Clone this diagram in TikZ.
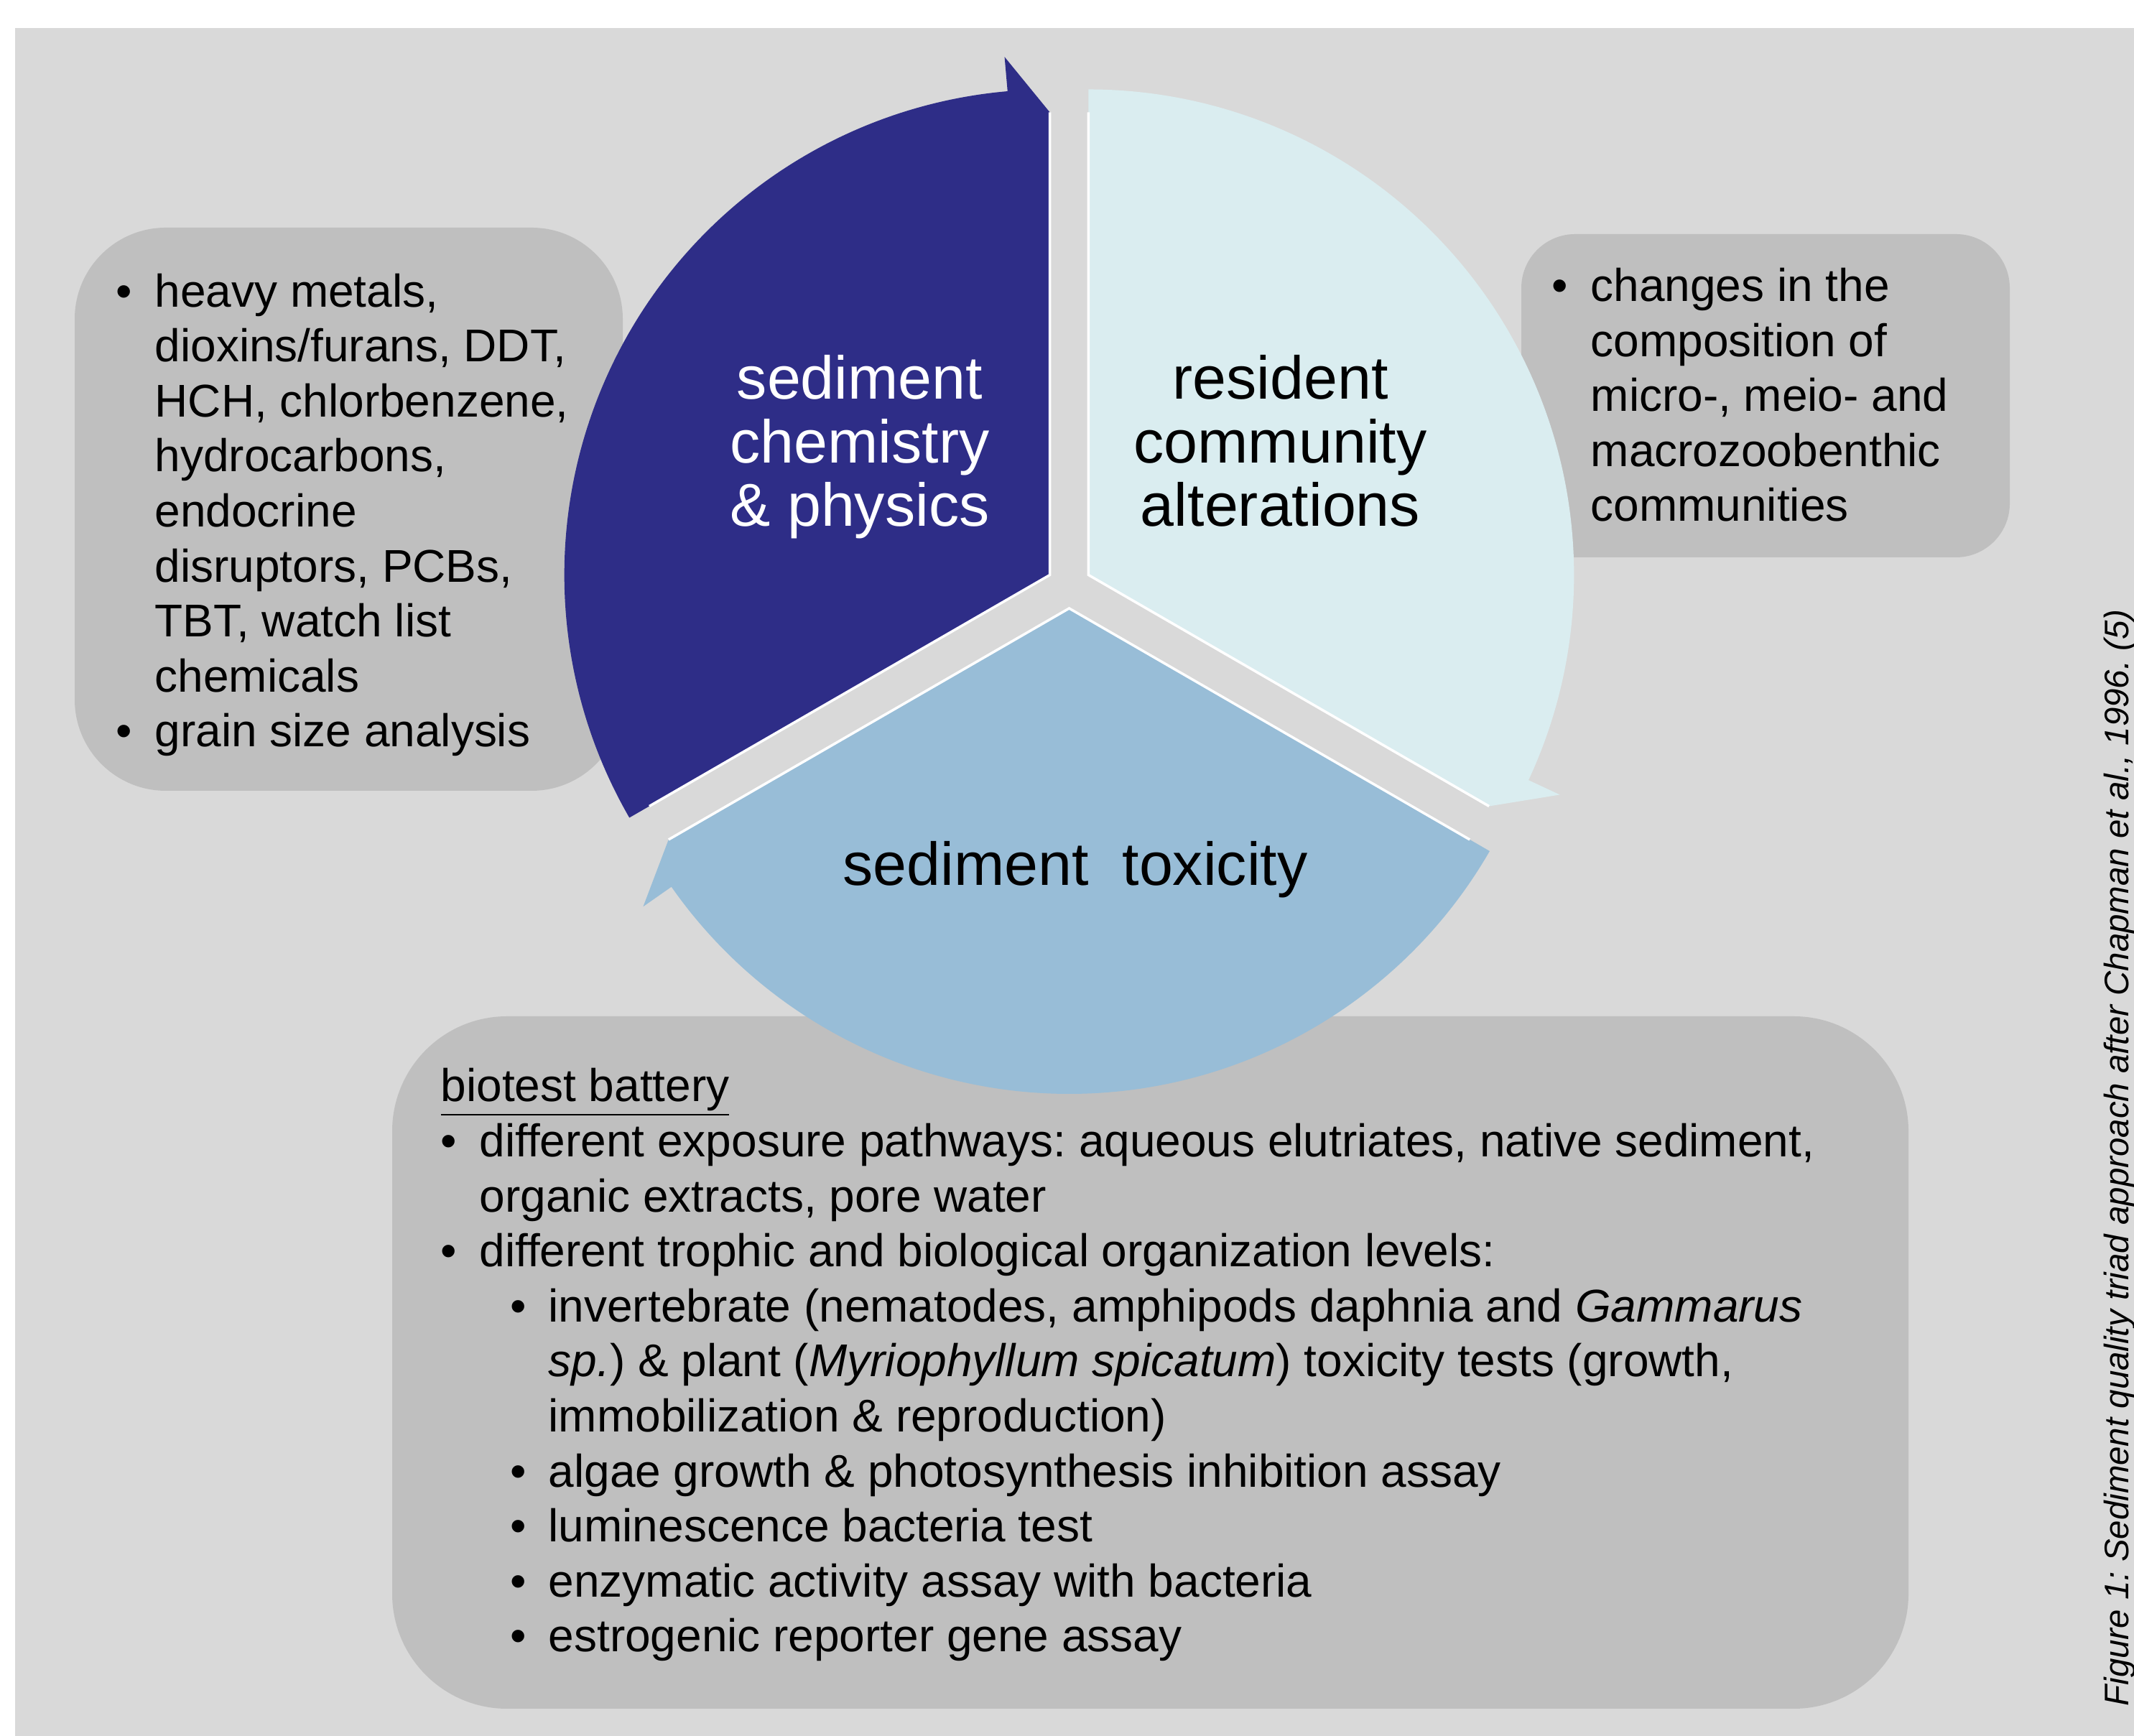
\documentclass[tikz,border=0pt]{standalone}
\usepackage{fontspec}
\setmainfont{Liberation Sans}
\usepackage{tikz}
\usepackage{xcolor}
\usetikzlibrary{positioning}

\definecolor{chemblue}{HTML}{2E2D87}
\definecolor{commcyan}{HTML}{DAEDF0}
\definecolor{toxblue}{HTML}{98BDD7}
\definecolor{panelgrey}{HTML}{D9D9D9}
\definecolor{boxgrey}{HTML}{BFBFBF}

\newcommand{\listdot}{\makebox[0.54cm][l]{\textbullet}}
\newcommand{\listgap}{\hspace*{0.54cm}}
\newcommand{\sublistdot}{\hspace*{0.97cm}\makebox[0.53cm][l]{\textbullet}}
\newcommand{\sublistgap}{\hspace*{1.50cm}}
\frenchspacing

\begin{document}
\begin{tikzpicture}[
        bodytext/.style={font=\fontsize{18.2}{21.8}\selectfont, align=left, inner sep=0pt, anchor=base west},
        headtext/.style={font=\fontsize{24}{25.2}\selectfont, align=center, inner sep=0pt, anchor=base},
        edgeline/.style={white, line width=1pt}
    ]
            \useasboundingbox (0, 0) rectangle (29.71, 24.17);
            \fill[panelgrey] (0.21, 0) rectangle (29.71, 23.78);

            % grey boxes behind the cycle
            \fill[boxgrey, rounded corners=1.27cm] (1.04, 13.16) rectangle (8.67, 21.00);
            \fill[boxgrey, rounded corners=0.75cm] (21.18, 16.41) rectangle (27.98, 20.91);
            \fill[boxgrey, rounded corners=1.6cm] (5.46, 0.38) rectangle (26.57, 10.02);

            % each segment is pushed a little away from the middle
            \coordinate (mid) at (14.885, 16.01);
            \coordinate (chem) at ([shift={(150:0.31)}]mid);
            \coordinate (comm) at ([shift={(30:0.31)}]mid);
            \coordinate (tox) at ([shift={(270:0.31)}]mid);

            \begin{scope}[shift={(chem)}]
                \fill[chemblue] (0, 0) -- (210:6.76) arc[start angle=210, end angle=95, radius=6.76] -- (95:7.24) -- (90:6.44) -- cycle;
                \draw[edgeline] (90:6.44) -- (0, 0) -- (210:6.44);
            \end{scope}
            \begin{scope}[shift={(comm)}]
                \fill[commcyan] (0, 0) -- (90:6.76) arc[start angle=90, end angle=-25, radius=6.76] -- (-25:7.24) -- (-30:6.44) -- cycle;
                \draw[edgeline] (-30:6.44) -- (0, 0) -- (90:6.44);
            \end{scope}
            \begin{scope}[shift={(tox)}]
                \fill[toxblue] (0, 0) -- (330:6.76) arc[start angle=330, end angle=215, radius=6.76] -- (215:7.24) -- (210:6.44) -- cycle;
                \draw[edgeline] (210:6.44) -- (0, 0) -- (330:6.44);
            \end{scope}

            % multi-line nodes sit on the baseline of their last line
            \node[headtext, white] (chemlabel) at (11.97, 16.84) {sediment\\chemistry\\\& physics};
            \node[headtext] (commlabel) at (17.825, 16.84) {resident\\community\\alterations};
            \node[headtext] (toxlabel) at (14.97, 11.84) {sediment~~toxicity};

            \node[bodytext] (chemlist) at (1.61, 13.77) {\listdot heavy metals,\\
                \listgap dioxins/furans, DDT,\\
                \listgap HCH, chlorbenzene,\\
                \listgap hydrocarbons,\\
                \listgap endocrine\\
                \listgap disruptors, PCBs,\\
                \listgap TBT, watch list\\
                \listgap chemicals\\
                \listdot grain size analysis};

            \node[bodytext] (commlist) at (21.60, 16.91) {\listdot changes in the\\
                \listgap composition of\\
                \listgap micro-, meio- and\\
                \listgap macrozoobenthic\\
                \listgap communities};

            \node[bodytext] (toxlist) at (6.13, 1.17) {\underline{biotest battery}\\
                \listdot different exposure pathways: aqueous elutriates, native sediment,\\
                \listgap organic extracts, pore water\\
                \listdot different trophic and biological organization levels:\\
                \sublistdot invertebrate (nematodes, amphipods daphnia and \textit{Gammarus}\\
                \sublistgap \textit{sp.}) \& plant (\textit{Myriophyllum spicatum}) toxicity tests (growth,\\
                \sublistgap immobilization \& reproduction)\\
                \sublistdot algae growth \& photosynthesis inhibition assay\\
                \sublistdot luminescence bacteria test\\
                \sublistdot enzymatic activity assay with bacteria\\
                \sublistdot estrogenic reporter gene assay};

            \node[rotate=90, anchor=base west, inner sep=0pt, font=\fontsize{13.5}{16}\selectfont\itshape] (caption) at (29.63, 0.41) {Figure 1: Sediment quality triad approach after Chapman et al., 1996. (5)};
\end{tikzpicture}
\end{document}
